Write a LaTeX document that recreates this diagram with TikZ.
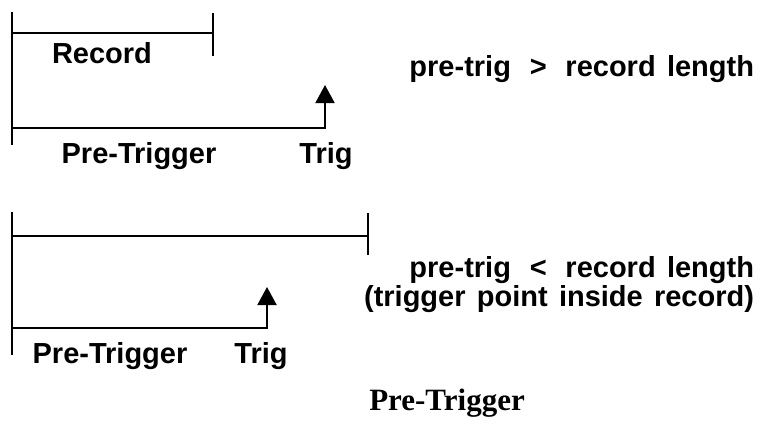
\documentclass[tikz,border=0pt]{standalone}
\usepackage{fontspec}
\setmainfont[WordSpace=1.4]{Liberation Sans}
\newfontfamily\capfont{Liberation Serif}
\usetikzlibrary{arrows.meta}
\newcommand{\relgap}{\hspace{7.5pt}}
\begin{document}
\begin{tikzpicture}[x=1pt,y=-1pt,line width=2pt,
  lbl/.style={inner sep=0pt,font=\bfseries\fontsize{29}{32}\selectfont,anchor=base},
  rlbl/.style={lbl,anchor=base east},
  trigarrow/.style={-{Triangle[width=19pt,length=18pt]}}]
\useasboundingbox (0,0) rectangle (760,426);
% top diagram
\coordinate (a0) at (12,12);
\coordinate (a1) at (12,145);
\coordinate (r0) at (12,33);
\coordinate (r1) at (213,33);
\coordinate (rt0) at (213,13);
\coordinate (rt1) at (213,56);
\coordinate (p0) at (12,128);
\coordinate (p1) at (325,128);
\coordinate (p2) at (325,85);
\draw (a0) -- (a1);
\draw (r0) -- (r1);
\draw (rt0) -- (rt1);
\draw[trigarrow] (p0) -- (p1) -- (p2);
\node[lbl] (rec) at (102,63) {Record};
\node[lbl] (pt1) at (139,163) {Pre-Trigger};
\node[lbl] (tr1) at (326,163) {Trig};
\node[rlbl] (c1) at (755,76) {pre-trig \relgap>\relgap{} record length};
% bottom diagram
\coordinate (b0) at (12,212);
\coordinate (b1) at (12,355);
\coordinate (q0) at (12,236);
\coordinate (q1) at (368,236);
\coordinate (qt0) at (368,213);
\coordinate (qt1) at (368,255);
\coordinate (s0) at (12,328);
\coordinate (s1) at (267,328);
\coordinate (s2) at (267,287);
\draw (b0) -- (b1);
\draw (q0) -- (q1);
\draw (qt0) -- (qt1);
\draw[trigarrow] (s0) -- (s1) -- (s2);
\node[lbl] (pt2) at (110,363) {Pre-Trigger};
\node[lbl] (tr2) at (261,363) {Trig};
\node[rlbl] (c2) at (755,277) {pre-trig \relgap<\relgap{} record length};
\node[rlbl] (c3) at (755,306) {(trigger point inside record)};
% caption
\node[inner sep=0pt,anchor=base,font=\capfont\bfseries\fontsize{31}{34}\selectfont] (cap) at (447,410) {Pre-Trigger};
\end{tikzpicture}
\end{document}
